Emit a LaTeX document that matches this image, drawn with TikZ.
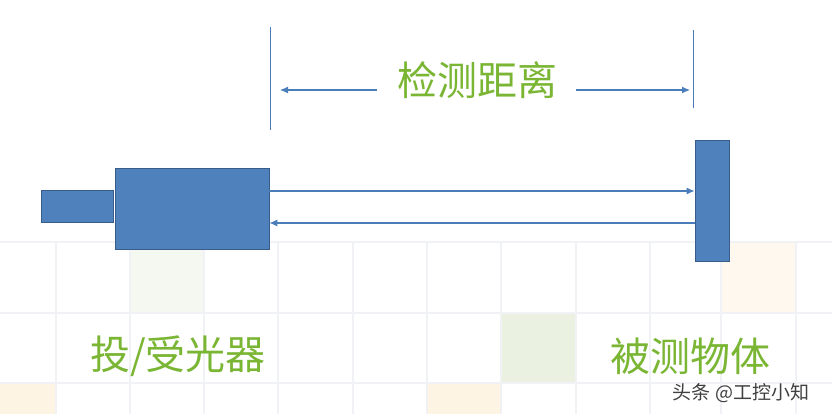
\documentclass[tikz,border=0pt]{standalone}
\usepackage{fontspec}
\newfontfamily\cjk{Noto Sans CJK SC}
\usetikzlibrary{arrows.meta,positioning}
\definecolor{boxblue}{RGB}{79,129,189}
\definecolor{edgeblue}{RGB}{56,93,138}
\definecolor{lineblue}{RGB}{74,126,187}
\definecolor{labelgreen}{RGB}{122,182,52}
\definecolor{tilegray}{RGB}{240,242,245}
\definecolor{tilegreen}{RGB}{234,241,225}
\definecolor{tileorange}{RGB}{253,244,228}
\tikzset{
  part/.style={draw=edgeblue,fill=boxblue,line width=0.8pt,inner sep=0pt,minimum width=#1},
  beam/.style={draw=lineblue,line width=1.1pt,-{Latex[length=8pt,width=7pt]}},
  guide/.style={draw=lineblue,line width=1pt},
  caption/.style={text=labelgreen,font=\cjk\fontsize{40}{44}\selectfont,inner sep=2pt}
}
\begin{document}
\begin{tikzpicture}[x=1pt,y=-1pt]
  \fill[white] (0,0) rectangle (832,414);
  \useasboundingbox (0,0) rectangle (832,414);
  % background tiles
  \fill[tilegreen!50] (130,242) rectangle (204,313);
  \fill[tileorange!60] (721,242) rectangle (796,313);
  \fill[tilegreen] (501,313) rectangle (576,383);
  \fill[tileorange] (0,383) rectangle (56,414);
  \fill[tileorange] (427,383) rectangle (501,414);
  \foreach \x in {56,130,204,278,353,427,501,576,650,721,796}
    \draw[tilegray,line width=1.5pt] (\x,242) -- (\x,414);
  \foreach \y in {242,313,383}
    \draw[tilegray,line width=1.5pt] (0,\y) -- (832,\y);

  % sensor and object
  \node[part=72pt,minimum height=32pt] (cap) at (77,206) {};
  \node[part=154pt,minimum height=81pt] (body) at (192,208.5) {};
  \node[part=34pt,minimum height=121pt] (target) at (712,200.5) {};
  \draw[beam] ([yshift=17.5pt]body.east) -- ([yshift=17.5pt]body.east -| target.west);
  \draw[beam] ([yshift=-14.5pt]body.east -| target.west) -- ([yshift=-14.5pt]body.east);

  % detection distance
  \coordinate (ltop) at (270,27);
  \coordinate (lbot) at (270,130);
  \coordinate (rtop) at (693,30);
  \coordinate (rbot) at (693,108);
  \coordinate (lstart) at (377,90);
  \coordinate (lend) at (280,90);
  \coordinate (rstart) at (576,90);
  \coordinate (rend) at (690,90);
  \draw[guide] (ltop) -- (lbot);
  \draw[guide] (rtop) -- (rbot);
  \node[caption] (dist) at (477,80) {检测距离};
  \draw[beam] (lstart) -- (lend);
  \draw[beam] (rstart) -- (rend);

  % labels
  \node[caption] (sensor) at (178,356) {投/受光器};
  \node[caption] (object) at (690,356) {被测物体};
  \node[text=black!75,font=\cjk\fontsize{19}{22}\selectfont,inner sep=0pt] (wmark) at (741,393) {头条 @工控小知};
\end{tikzpicture}
\end{document}
